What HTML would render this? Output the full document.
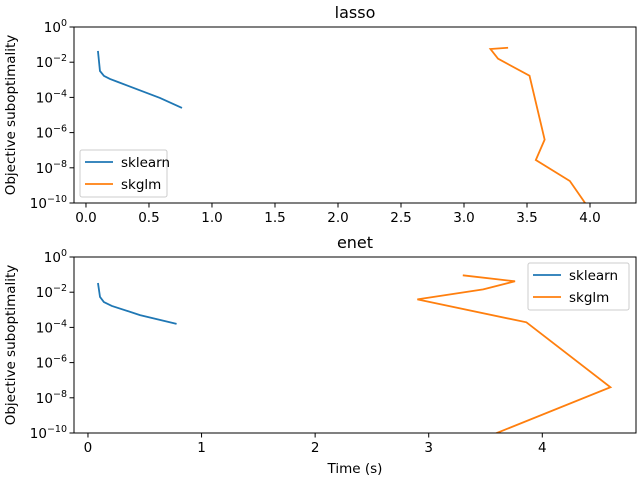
<!DOCTYPE html>
<html><head><meta charset="utf-8"><style>
body{margin:0;background:#fff}
svg{display:block;font-family:"DejaVu Sans","Liberation Sans",sans-serif}
</style></head><body>
<svg id="c" width="640" height="480"></svg>
<script>
const lassoSklearnX=[0.095,0.111,0.143,0.19,0.254,0.587,0.762];
const lassoSklearnY=[-1.36,-2.5,-2.78,-2.95,-3.125,-4.03,-4.6];
const lassoSkglmX=[3.35,3.21,3.27,3.52,3.64,3.57,3.84,3.99];
const lassoSkglmY=[-1.18,-1.25,-1.8,-2.77,-6.4,-7.56,-8.75,-10.3];
const enetSklearnX=[0.088,0.106,0.14,0.21,0.458,0.78];
const enetSklearnY=[-1.48,-2.27,-2.56,-2.78,-3.3,-3.8];
const enetSkglmX=[3.30,3.76,3.48,2.90,3.86,4.60,3.58];
const enetSkglmY=[-1.04,-1.38,-1.84,-2.41,-3.71,-7.4,-10.05];
const lassoXTicks=[0,0.5,1,1.5,2,2.5,3,3.5,4];
const lassoXLabels=["0.0","0.5","1.0","1.5","2.0","2.5","3.0","3.5","4.0"];
const enetXTicks=[0,1,2,3,4];
const enetXLabels=["0","1","2","3","4"];
const yTicks=[0,-2,-4,-6,-8,-10];

const NS="http://www.w3.org/2000/svg",svg=document.getElementById('c');
function el(t,a,p){const e=document.createElementNS(NS,t);for(const k in a)e.setAttribute(k,a[k]);(p||svg).appendChild(e);return e;}
function panel(name,top,xmin,xmax,xt,xl,s1x,s1y,s2x,s2y,legX,legY,xlabel){
  const L=74,R=636,T=top,B=top+176;
  const g=el('g',{});
  
  
  const sx=v=>L+(v-xmin)/(xmax-xmin)*(R-L);
  const sy=v=>T+(0-v)/10*(B-T);
  const cid='clip'+name;
  const cp=el('clipPath',{id:cid},g);el('rect',{x:L,y:T,width:R-L,height:B-T},cp);
  [[s1x,s1y,'#1f77b4','sklearn'],[s2x,s2y,'#ff7f0e','skglm']].forEach(([X,Y,c,n])=>{
    const p=el('polyline',{points:X.map((x,i)=>sx(x)+','+sy(Y[i])).join(' '),fill:'none',stroke:c,'stroke-width':1.8,'clip-path':'url(#'+cid+')'},g);
    
    
  });
  const fr=el('rect',{x:L,y:T,width:R-L,height:B-T,fill:'none',stroke:'#000','stroke-width':1},g);
  
  
  xt.forEach((v,i)=>{const x=sx(v);el('line',{x1:x,x2:x,y1:B,y2:B+4.5,stroke:'#000','stroke-width':1},g);
    const t=el('text',{x:x,y:B+19,'font-size':13.5,'text-anchor':'middle'},g);t.textContent=xl[i];
    
    });
  yTicks.forEach(v=>{const y=sy(v);el('line',{x1:L-4.5,x2:L,y1:y,y2:y,stroke:'#000','stroke-width':1},g);
    const t=el('text',{x:L-7,y:y+5,'font-size':13.5,'text-anchor':'end'},g);t.textContent='10';
    const s=el('tspan',{'font-size':9.5,dy:-6},t);s.textContent=String(v).replace('-','\u2212');
    
    
  });
  const ti=el('text',{x:(L+R)/2,y:T-9,'font-size':16,'text-anchor':'middle'},g);ti.textContent=name;
  
  
  const yl=el('text',{x:0,y:0,'font-size':13.5,'text-anchor':'middle',transform:'translate(15,'+((T+B)/2)+') rotate(-90)'},g);yl.textContent='Objective suboptimality';
  
  
  if(xlabel){const xl2=el('text',{x:(L+R)/2,y:B+40,'font-size':13.5,'text-anchor':'middle'},g);xl2.textContent=xlabel;
    
    }
  const lg=el('g',{},g);
  
  
  el('rect',{x:legX,y:legY,width:legX>300?101:87,height:47,rx:2,fill:'#fff','fill-opacity':0.8,stroke:'#ccc','stroke-width':1},lg);
  [['#1f77b4','sklearn'],['#ff7f0e','skglm']].forEach(([c,n],i)=>{
    const y=legY+12+i*22;
    el('line',{x1:legX+5,x2:legX+33,y1:y,y2:y,stroke:c,'stroke-width':1.8},lg);
    const t=el('text',{x:legX+41,y:y+5,'font-size':13.5},lg);t.textContent=n;
    
    
  });
}
panel('lasso',27,-0.095,4.365,lassoXTicks,lassoXLabels,lassoSklearnX,lassoSklearnY,lassoSkglmX,lassoSkglmY,80,150,null);
panel('enet',257,-0.123,4.825,enetXTicks,enetXLabels,enetSklearnX,enetSklearnY,enetSkglmX,enetSkglmY,528,263,'Time (s)');
</script>
</body></html>
